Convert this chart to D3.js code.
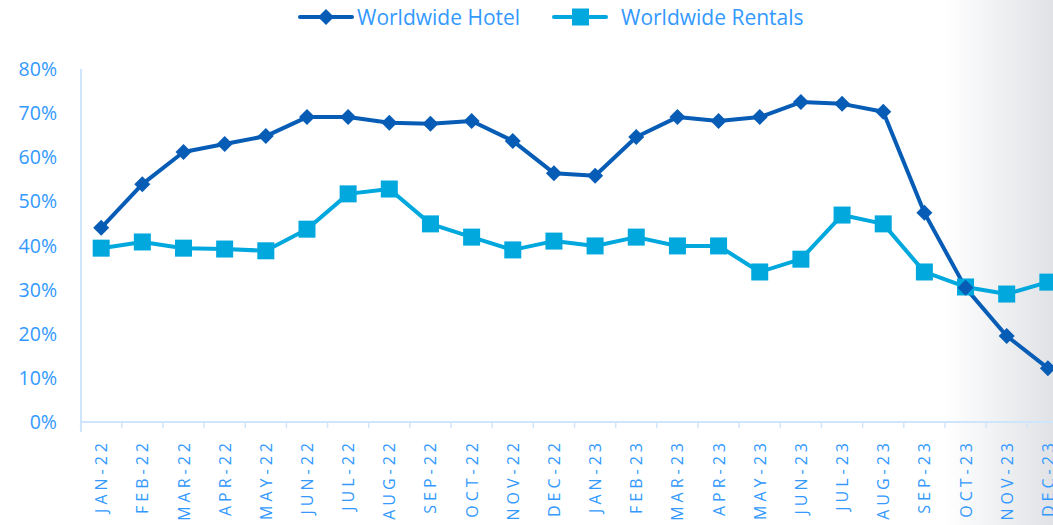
<!DOCTYPE html>
<html><head><meta charset="utf-8">
<script src="https://cdn.jsdelivr.net/npm/d3@7/dist/d3.min.js"></script>
<style>body{margin:0;background:#fff}svg{display:block}</style>
</head><body>
<svg id="c" width="1053" height="525"></svg>
<script>
const months = ["JAN-22","FEB-22","MAR-22","APR-22","MAY-22","JUN-22","JUL-22","AUG-22","SEP-22","OCT-22","NOV-22","DEC-22",
"JAN-23","FEB-23","MAR-23","APR-23","MAY-23","JUN-23","JUL-23","AUG-23","SEP-23","OCT-23","NOV-23","DEC-23"];
const hotel = [44.0,53.9,61.2,63.0,64.8,69.1,69.1,67.8,67.6,68.2,63.7,56.4,55.8,64.6,69.1,68.2,69.1,72.5,72.1,70.3,47.4,30.4,19.5,12.2];
const rentals = [39.4,40.8,39.4,39.2,38.8,43.7,51.7,52.8,44.9,41.9,39.0,41.0,39.9,41.9,39.9,39.9,34.0,36.9,46.9,44.9,34.0,30.6,29.0,31.7];
const yTicks = [0,10,20,30,40,50,60,70,80];
const seriesNames = ["Worldwide Hotel","Worldwide Rentals"];

const svg = d3.select("#c");
const textColor = "#3399ff", axisColor = "#cfe5fc";
const hotelColor = "#075cb6", rentColor = "#00a8de";

// background gradient on the right
const defs = svg.append("defs");
const g = defs.append("linearGradient").attr("id","bg").attr("x1","0").attr("x2","1").attr("y1","0").attr("y2","0");
g.append("stop").attr("offset","0").attr("stop-color","#ffffff");
g.append("stop").attr("offset","0.45").attr("stop-color","#f1f2f4");
g.append("stop").attr("offset","1").attr("stop-color","#e0e2e5");
svg.append("rect").attr("x",945).attr("y",0).attr("width",108).attr("height",525).attr("fill","url(#bg)");

const x = d3.scaleBand().domain(months).range([80.6, 80.6 + 41.16*24]);
const y = d3.scaleLinear().domain([0,80]).range([422,69]);

// y axis line
svg.append("line").attr("x1",81).attr("x2",81).attr("y1",69).attr("y2",432)
  .attr("stroke",axisColor).attr("stroke-width",2);
// y tick labels
svg.append("g").selectAll("text").data(yTicks).join("text")
  .attr("x",57).attr("y",d=>y(d)).attr("dy","0.36em").attr("text-anchor","end")
  .attr("fill",textColor).style("font-family","'Open Sans', sans-serif").style("font-size","19.5px")
  .text(d=>d+"%");

// x axis
const xAxis = d3.axisBottom(x).tickSize(6).tickFormat("");
const xg = svg.append("g").attr("transform","translate(0,422)").call(xAxis);
xg.select(".domain").attr("stroke",axisColor).attr("stroke-width",2).attr("d","M81,0H1053");
xg.selectAll(".tick line").attr("stroke",axisColor).attr("stroke-width",1.5)
  .attr("transform",`translate(${-x.bandwidth()/2},0)`);
svg.append("g").selectAll("text").data(months).join("text")
  .attr("transform",d=>`translate(${x(d)+x.bandwidth()/2+6},439) rotate(-90)`)
  .attr("text-anchor","end").attr("fill",textColor)
  .style("font-family","'Open Sans', sans-serif").style("font-size","16px").style("letter-spacing","4px")
  .text(d=>d);

const cx = i => x(months[i]) + x.bandwidth()/2;
const line = d3.line().x((d,i)=>cx(i)).y(d=>y(d));

svg.append("path").datum(rentals).attr("d",line).attr("fill","none").attr("stroke",rentColor).attr("stroke-width",4).attr("stroke-linejoin","round");
svg.append("path").datum(hotel).attr("d",line).attr("fill","none").attr("stroke",hotelColor).attr("stroke-width",4).attr("stroke-linejoin","round");

svg.append("g").selectAll("rect").data(rentals).join("rect")
  .attr("x",(d,i)=>cx(i)-8.5).attr("y",d=>y(d)-8.5).attr("width",17).attr("height",17).attr("fill",rentColor);
svg.append("g").selectAll("path").data(hotel).join("path")
  .attr("d",(d,i)=>{const X=cx(i),Y=y(d),r=8;return `M${X},${Y-r}L${X+r},${Y}L${X},${Y+r}L${X-r},${Y}Z`;})
  .attr("fill",hotelColor);

// legend
const leg = svg.append("g");
leg.append("line").attr("x1",300).attr("x2",352).attr("y1",17).attr("y2",17).attr("stroke",hotelColor).attr("stroke-width",4).attr("stroke-linecap","round");
leg.append("path").attr("d","M326,9L334,17L326,25L318,17Z").attr("fill",hotelColor);
leg.append("text").attr("x",357).attr("y",17).attr("dy","0.36em").attr("fill",textColor)
  .style("font-family","'Open Sans', sans-serif").style("font-size","21px").text(seriesNames[0]);
leg.append("line").attr("x1",554).attr("x2",606).attr("y1",17).attr("y2",17).attr("stroke",rentColor).attr("stroke-width",4).attr("stroke-linecap","round");
leg.append("rect").attr("x",572).attr("y",8.5).attr("width",17).attr("height",17).attr("fill",rentColor);
leg.append("text").attr("x",621).attr("y",17).attr("dy","0.36em").attr("fill",textColor)
  .style("font-family","'Open Sans', sans-serif").style("font-size","21px").text(seriesNames[1]);
</script>
</body></html>
